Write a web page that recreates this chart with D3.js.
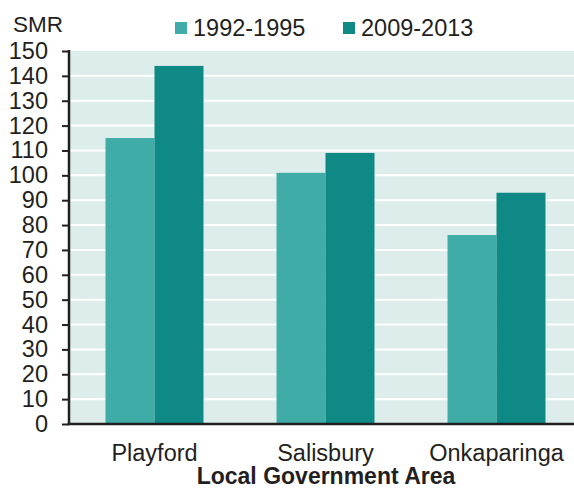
<!DOCTYPE html>
<html>
<head>
<meta charset="utf-8">
<script src="https://cdn.jsdelivr.net/npm/d3@7"></script>
<style>
  html, body { margin: 0; padding: 0; background: #fff; }
  svg { display: block; font-family: "Liberation Sans", Arial, Helvetica, sans-serif; }
</style>
</head>
<body>
<svg id="chart" width="574" height="488"></svg>
<script>
// Standardised mortality ratio by local government area, two periods
const areas = ["Playford", "Salisbury", "Onkaparinga"];
const periods = ["1992-1995", "2009-2013"];
const smr1992 = [115, 101, 76];
const smr2009 = [144, 109, 93];
const yTicks = [0, 10, 20, 30, 40, 50, 60, 70, 80, 90, 100, 110, 120, 130, 140, 150];
const colors = ["#40aca8", "#0e8985"];

const rows = areas.map((a, i) => ({ area: a, values: [smr1992[i], smr2009[i]] }));

const svg = d3.select("#chart");
const W = 574;
const plotLeft = 69, plotTop = 51, plotBottom = 424;
const ink = "#231f20";

const y = d3.scaleLinear().domain([0, 150]).range([plotBottom, plotTop]);
const x = d3.scaleBand().domain(areas).range([plotLeft, 582])
  .paddingInner(0.427).paddingOuter(0.2135);
const xs = d3.scaleBand().domain(periods).range([0, x.bandwidth()]);

// plot background
svg.append("rect")
  .attr("x", plotLeft).attr("y", plotTop)
  .attr("width", W - plotLeft).attr("height", plotBottom - plotTop)
  .attr("fill", "#ddedeb");

// horizontal gridlines
svg.append("g").selectAll("line")
  .data(yTicks.filter(t => t > 0 && t < 150))
  .join("line")
  .attr("x1", plotLeft).attr("x2", W)
  .attr("y1", d => y(d)).attr("y2", d => y(d))
  .attr("stroke", "#ffffff").attr("stroke-width", 2);

// bars
const groups = svg.append("g").selectAll("g")
  .data(rows).join("g")
  .attr("transform", d => `translate(${x(d.area)},0)`);
groups.selectAll("rect")
  .data(d => d.values.map((v, k) => ({ period: periods[k], value: v, k })))
  .join("rect")
  .attr("x", d => xs(d.period))
  .attr("y", d => y(d.value))
  .attr("width", xs.bandwidth())
  .attr("height", d => y(0) - y(d.value))
  .attr("fill", d => colors[d.k]);

// y axis
const yAxis = d3.axisLeft(y).tickValues(yTicks).tickSize(7).tickPadding(14);
const gy = svg.append("g").attr("transform", `translate(${plotLeft},0)`).call(yAxis);
gy.select(".domain").remove();
gy.selectAll(".tick line").attr("stroke", ink).attr("stroke-width", 2);
gy.selectAll(".tick text")
  .attr("fill", ink).attr("font-size", 23.5)
  .attr("font-family", "Liberation Sans, Arial, sans-serif");
svg.append("line")
  .attr("x1", plotLeft).attr("x2", plotLeft)
  .attr("y1", plotTop - 1).attr("y2", plotBottom + 1)
  .attr("stroke", ink).attr("stroke-width", 2.5);

// x axis
const xAxis = d3.axisBottom(x).tickSize(0).tickPadding(0);
const gx = svg.append("g").attr("transform", `translate(0,${plotBottom})`).call(xAxis);
gx.select(".domain").remove();
gx.selectAll(".tick text")
  .attr("fill", ink).attr("font-size", 23.5)
  .attr("font-family", "Liberation Sans, Arial, sans-serif")
  .attr("dy", null).attr("y", 37);
svg.append("line")
  .attr("x1", plotLeft - 1.25).attr("x2", W)
  .attr("y1", plotBottom).attr("y2", plotBottom)
  .attr("stroke", ink).attr("stroke-width", 2.5);

// axis titles
svg.append("text")
  .attr("x", 13).attr("y", 32)
  .attr("fill", ink).attr("font-size", 22.5)
  .text("SMR");
svg.append("text")
  .attr("x", 326).attr("y", 483.5)
  .attr("text-anchor", "middle")
  .attr("fill", ink).attr("font-size", 23).attr("font-weight", "bold")
  .text("Local Government Area");

// legend
const legendX = [175, 343];
const legend = svg.append("g").selectAll("g")
  .data(periods).join("g")
  .attr("transform", (d, i) => `translate(${legendX[i]},22)`);
legend.append("rect")
  .attr("width", 12).attr("height", 12)
  .attr("fill", (d, i) => colors[i]);
legend.append("text")
  .attr("x", 18).attr("y", 13.5)
  .attr("fill", ink).attr("font-size", 23.5)
  .text(d => d);
</script>
</body>
</html>
